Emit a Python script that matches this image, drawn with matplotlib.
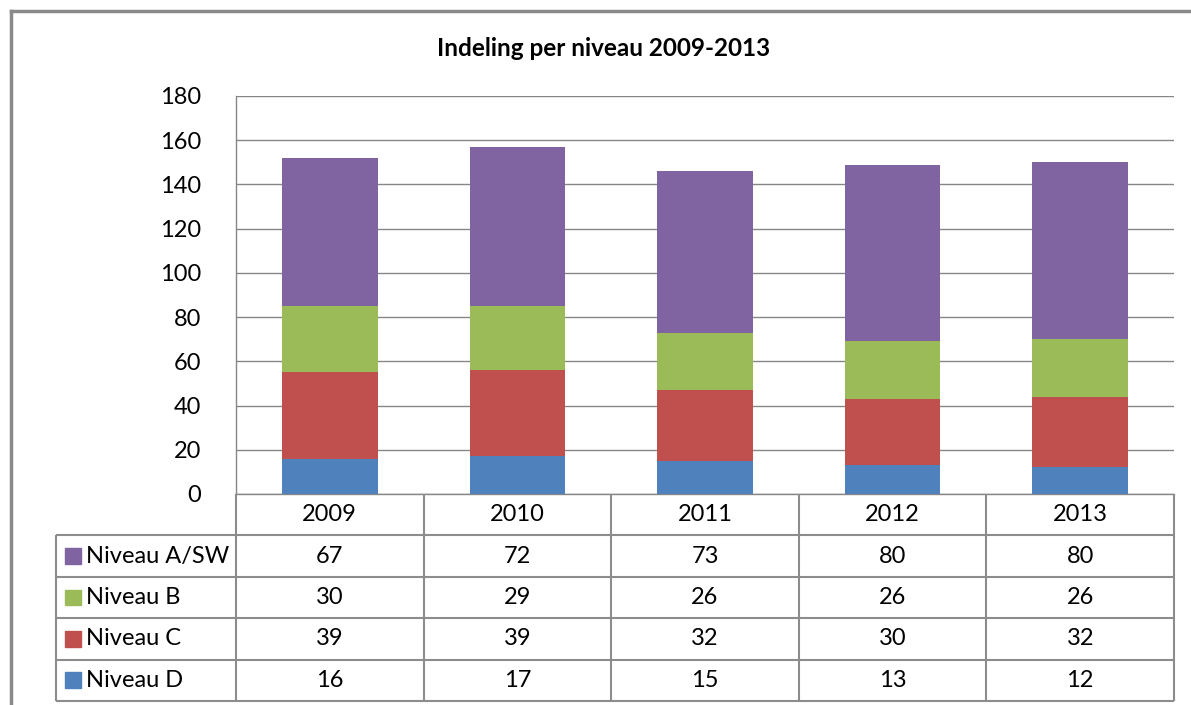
import matplotlib
matplotlib.use("Agg")
import matplotlib.pyplot as plt
from matplotlib.lines import Line2D
from matplotlib.patches import Rectangle
import numpy as np

years = ["2009", "2010", "2011", "2012", "2013"]
series_names = ["Niveau D", "Niveau C", "Niveau B", "Niveau A/SW"]
niveau_d = [16, 17, 15, 13, 12]
niveau_c = [39, 39, 32, 30, 32]
niveau_b = [30, 29, 26, 26, 26]
niveau_a = [67, 72, 73, 80, 80]
colors = ["#4F81BD", "#C0504D", "#9BBB59", "#8064A2"]
y_ticks = [0, 20, 40, 60, 80, 100, 120, 140, 160, 180]
title = "Indeling per niveau 2009-2013"

FONT = "Lato"
FS = 17
W, H = 1191, 705
fig = plt.figure(figsize=(W / 100, H / 100), dpi=100)
fig.patch.set_facecolor("white")

def fx(px):
    return px / W

def fy(py):
    return 1 - py / H

GRID = "#868686"
LINE = "#8c8c8c"

# outer frame (top and left visible)
fig.add_artist(Line2D([fx(11), 1.0], [fy(11), fy(11)], color="#8a8a8a", lw=2.5))
fig.add_artist(Line2D([fx(11), fx(11)], [fy(11), 0], color="#8a8a8a", lw=2.5))

# plot area
L, R, T, B = 236, 1174, 96, 494
ax = fig.add_axes([fx(L), fy(B), fx(R) - fx(L), fy(T) - fy(B)])
x = np.arange(len(years))
data = [niveau_d, niveau_c, niveau_b, niveau_a]
bottom = np.zeros(len(years))
for vals, c, name in zip(data, colors, series_names):
    ax.bar(x, vals, width=0.51, bottom=bottom, color=c, label=name, zorder=3)
    bottom += np.array(vals)
ax.set_xlim(-0.5, len(years) - 0.5)
ax.set_ylim(0, 180)
ax.set_yticks(y_ticks)
ax.set_yticklabels([str(v) for v in y_ticks], fontfamily=FONT, fontsize=FS, color="#000000")
ax.set_xticks([])
ax.tick_params(axis="y", length=0, pad=25)
ax.yaxis.grid(True, color=GRID, lw=1.0, zorder=0)
for s in ["top", "right"]:
    ax.spines[s].set_visible(False)
ax.spines["left"].set_color(GRID)
ax.spines["bottom"].set_color(GRID)
ax.spines["left"].set_linewidth(1.0)
ax.spines["bottom"].set_linewidth(1.0)

# title
fig.text(fx(604), fy(48), title, ha="center", va="center", fontfamily=FONT,
         fontsize=17.5, fontweight="bold")

# data table
TL, TB = 56, 701
unit = (R - L) / len(years)
xleft = -0.5 - (L - TL) / unit
tax = fig.add_axes([fx(TL), fy(TB), fx(R) - fx(TL), fy(B) - fy(TB)])
tax.set_xlim(xleft, len(years) - 0.5)
tax.set_ylim(5, 0)
tax.axis("off")
lk = dict(color=LINE, lw=1.5, solid_capstyle="butt", clip_on=False)
# vertical column lines
for i in range(len(years) + 1):
    tax.plot([i - 0.5, i - 0.5], [0, 5], **lk)
tax.plot([xleft, xleft], [1, 5], **lk)
# horizontal lines
for r in range(1, 6):
    tax.plot([xleft, len(years) - 0.5], [r, r], **lk)
# header
for i, yr in enumerate(years):
    tax.text(i, 0.5, yr, ha="center", va="center", fontfamily=FONT, fontsize=FS)
rows = list(zip(series_names, data, colors))[::-1]
sq_w = 16 / unit
for r, (name, vals, c) in enumerate(rows, start=1):
    yc = r + 0.5
    tax.add_patch(Rectangle((xleft + 9 / unit, yc - 0.19), sq_w, 0.38, color=c, clip_on=False))
    tax.text(xleft + 30 / unit, yc, name, ha="left", va="center", fontfamily=FONT, fontsize=FS)
    for i, v in enumerate(vals):
        tax.text(i, yc, str(v), ha="center", va="center", fontfamily=FONT, fontsize=FS)

fig.savefig("out.png", dpi=100, facecolor="white")
